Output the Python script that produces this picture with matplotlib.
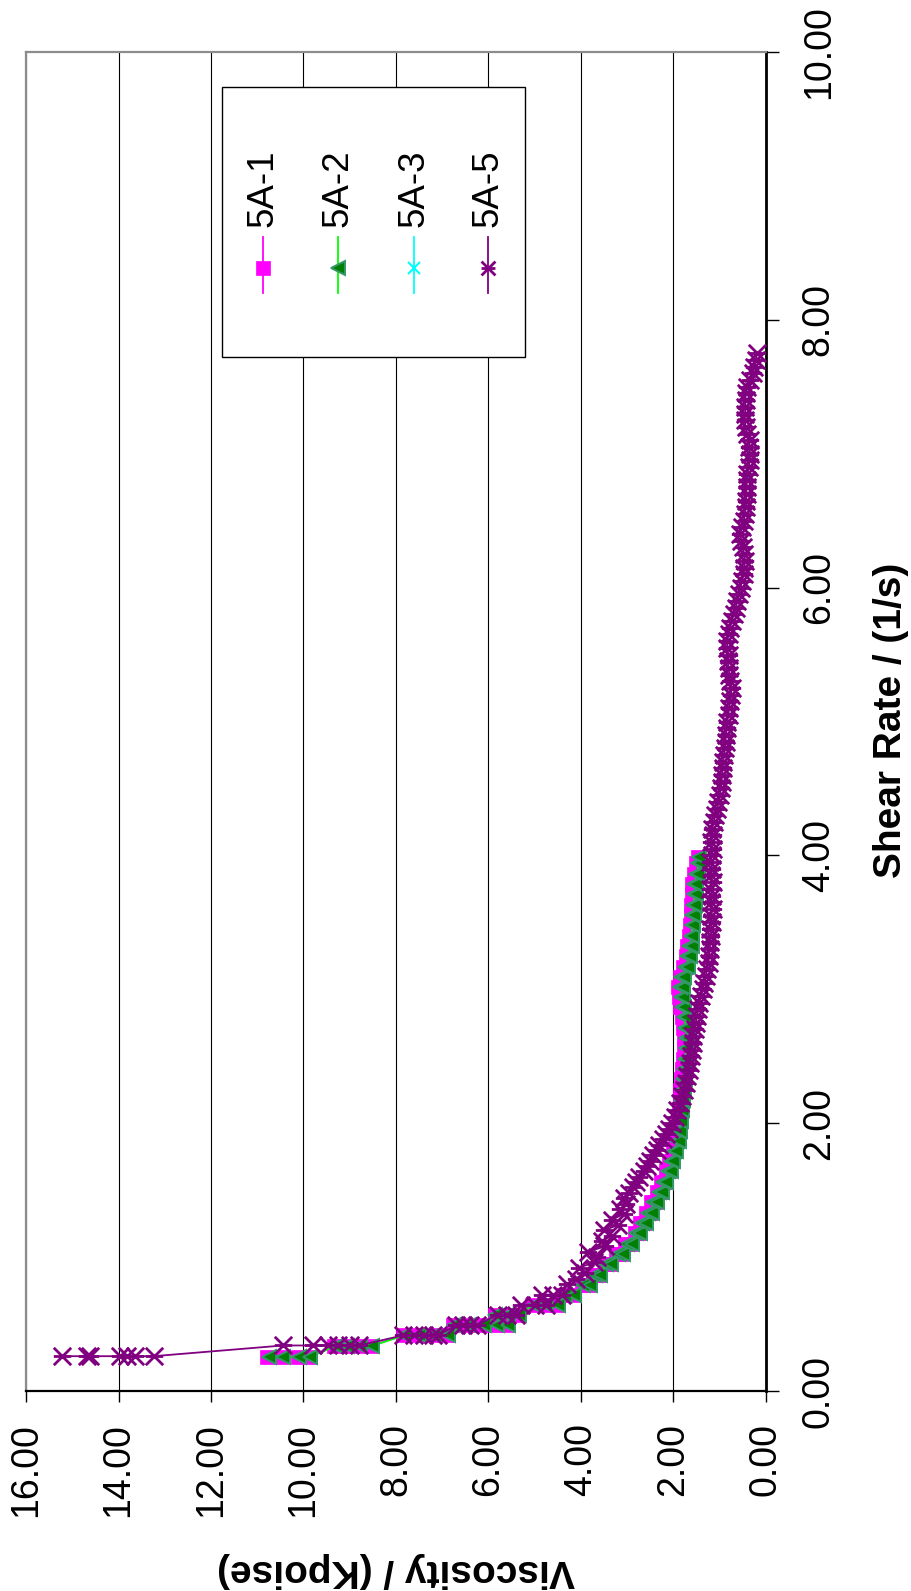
import matplotlib
matplotlib.use('Agg')
import matplotlib.pyplot as plt
from matplotlib.path import Path
from matplotlib.lines import Line2D
from matplotlib.patches import Rectangle
from matplotlib.ticker import FormatStrFormatter

plt.rcParams['font.family'] = ['Liberation Sans', 'DejaVu Sans']

# ---- data (shear rate 1/s, viscosity Kpoise) ----
series_names = ['5A-1', '5A-2', '5A-3', '5A-5']

shear_12 = [
    0.256, 0.256, 0.256, 0.256,
    0.336, 0.336, 0.336, 0.336,
    0.416, 0.416, 0.416, 0.416,
    0.493, 0.493, 0.493, 0.493, 0.493,
    0.568, 0.568, 0.568,
    0.645, 0.645, 0.645,
    0.72, 0.72, 0.795, 0.795, 0.87, 0.87, 0.95, 0.95, 1.025, 1.025,
    1.10, 1.10, 1.18, 1.18, 1.255, 1.255, 1.33, 1.33, 1.41, 1.41,
    1.485, 1.485, 1.56, 1.56, 1.64, 1.64, 1.715, 1.715, 1.79, 1.79,
    1.87, 1.87, 1.945, 1.945, 2.02, 2.02, 2.10, 2.10, 2.175, 2.175,
    2.25, 2.25, 2.33, 2.33, 2.405, 2.405, 2.48, 2.48, 2.56, 2.56,
    2.635, 2.635, 2.71, 2.71, 2.79, 2.79, 2.865, 2.865, 2.94, 2.94,
    3.02, 3.02, 3.095, 3.095, 3.17, 3.17, 3.25, 3.25, 3.325, 3.325,
    3.40, 3.40, 3.48, 3.48, 3.555, 3.555, 3.63, 3.63, 3.71, 3.71,
    3.785, 3.785, 3.86, 3.86, 3.94, 3.94, 3.99,
]

visc_5a1 = [
    10.78, 10.48, 10.12, 9.86,
    9.33, 9.06, 8.80, 8.55,
    7.84, 7.52, 7.20, 6.90,
    6.77, 6.44, 6.12, 5.84, 5.60,
    5.87, 5.62, 5.37,
    5.05, 4.78, 4.52,
    4.38, 4.18, 3.98, 3.83, 3.73, 3.61, 3.48, 3.38, 3.24, 3.13,
    3.04, 2.93, 2.84, 2.75, 2.72, 2.63, 2.59, 2.50, 2.48, 2.39,
    2.36, 2.28, 2.26, 2.19, 2.16, 2.09, 2.09, 2.03, 2.02, 1.97,
    1.97, 1.92, 1.94, 1.89, 1.91, 1.86, 1.89, 1.84, 1.87, 1.82,
    1.85, 1.80, 1.83, 1.78, 1.81, 1.76, 1.80, 1.75, 1.78, 1.73,
    1.77, 1.72, 1.80, 1.75, 1.82, 1.77, 1.85, 1.80, 1.88, 1.82,
    1.90, 1.83, 1.87, 1.80, 1.79, 1.72, 1.74, 1.68, 1.70, 1.64,
    1.67, 1.62, 1.65, 1.60, 1.63, 1.58, 1.62, 1.57, 1.60, 1.55,
    1.59, 1.54, 1.56, 1.51, 1.51, 1.46, 1.48,
]

visc_5a2 = [
    10.75, 10.45, 10.10, 9.85,
    9.30, 9.05, 8.78, 8.52,
    7.82, 7.50, 7.18, 6.88,
    6.75, 6.42, 6.10, 5.82, 5.58,
    5.85, 5.60, 5.35,
    5.02, 4.75, 4.50,
    4.35, 4.15, 3.95, 3.80, 3.70, 3.58, 3.45, 3.35, 3.20, 3.10,
    3.00, 2.90, 2.80, 2.72, 2.68, 2.60, 2.55, 2.47, 2.44, 2.36,
    2.32, 2.25, 2.22, 2.16, 2.12, 2.06, 2.05, 2.00, 1.98, 1.94,
    1.93, 1.89, 1.90, 1.86, 1.87, 1.83, 1.85, 1.81, 1.83, 1.79,
    1.81, 1.77, 1.79, 1.75, 1.77, 1.73, 1.76, 1.72, 1.74, 1.70,
    1.73, 1.69, 1.76, 1.72, 1.78, 1.74, 1.81, 1.77, 1.84, 1.79,
    1.86, 1.80, 1.83, 1.77, 1.75, 1.69, 1.70, 1.65, 1.66, 1.61,
    1.63, 1.59, 1.61, 1.57, 1.59, 1.55, 1.58, 1.54, 1.56, 1.52,
    1.55, 1.51, 1.52, 1.48, 1.47, 1.43, 1.45,
]

shear_5a3 = []
visc_5a3 = []

shear_5a5 = [
    0.26, 0.26, 0.26, 0.26, 0.26, 0.26, 0.26,
    0.34, 0.34, 0.34, 0.34, 0.34, 0.34,
    0.415, 0.415, 0.415, 0.415, 0.415,
    0.49, 0.49, 0.49, 0.49,
    0.57, 0.57, 0.57,
    0.645, 0.645, 0.645,
    0.72, 0.72, 0.72,
    0.80, 0.84, 0.88, 0.92, 0.96, 1.00, 1.04, 1.08, 1.12, 1.16,
    1.20, 1.24, 1.28, 1.32, 1.36, 1.40, 1.44, 1.48, 1.52, 1.56,
    1.60, 1.64, 1.68, 1.72, 1.76, 1.80, 1.84, 1.88, 1.92, 1.96,
    2.00, 2.05, 2.10, 2.15, 2.20, 2.25, 2.30, 2.35, 2.40, 2.45,
    2.50, 2.55, 2.60, 2.65, 2.70, 2.75, 2.80, 2.85, 2.90, 2.95,
    3.00, 3.05, 3.10, 3.15, 3.20, 3.25, 3.30, 3.35, 3.40, 3.45,
    3.50, 3.55, 3.60, 3.65, 3.70, 3.75, 3.80, 3.85, 3.90, 3.95,
    4.00, 4.05, 4.10, 4.15, 4.20, 4.25, 4.30, 4.35, 4.40, 4.45,
    4.50, 4.55, 4.60, 4.65, 4.70, 4.75, 4.80, 4.85, 4.90, 4.95,
    5.00, 5.05, 5.10, 5.15, 5.20, 5.25, 5.30, 5.35, 5.40, 5.45,
    5.50, 5.55, 5.60, 5.65, 5.70, 5.75, 5.80, 5.85, 5.90, 5.95,
    6.00, 6.05, 6.10, 6.15, 6.20, 6.25, 6.30, 6.35, 6.40, 6.45,
    6.50, 6.55, 6.60, 6.65, 6.70, 6.75, 6.80, 6.85, 6.90, 6.95,
    7.00, 7.05, 7.10, 7.15, 7.20, 7.25, 7.30, 7.35, 7.40, 7.45,
    7.50, 7.55, 7.60, 7.65, 7.70, 7.75,
]

visc_5a5 = [
    15.22, 14.69, 14.62, 13.97, 13.82, 13.64, 13.24,
    10.44, 9.79, 9.47, 9.25, 9.00, 8.80,
    7.85, 7.60, 7.40, 7.20, 7.10,
    6.70, 6.55, 6.40, 6.25,
    5.80, 5.60, 5.40,
    5.30, 5.00, 4.75,
    4.85, 4.60, 4.40,
    4.30, 4.10, 3.92, 4.05, 3.72, 3.66, 3.85, 3.48, 3.55, 3.33,
    3.50, 3.20, 3.34, 3.08, 3.16, 3.02, 3.08, 2.96, 2.88, 2.80,
    2.74, 2.64, 2.58, 2.50, 2.44, 2.36, 2.31, 2.23, 2.17, 2.10,
    2.04, 1.97, 1.92, 1.86, 1.81, 1.77, 1.72, 1.71, 1.66, 1.65,
    1.62, 1.61, 1.58, 1.58, 1.54, 1.51, 1.49, 1.46, 1.44, 1.40,
    1.37, 1.33, 1.29, 1.28, 1.24, 1.23, 1.21, 1.21, 1.18, 1.20,
    1.16, 1.19, 1.15, 1.19, 1.16, 1.20, 1.15, 1.19, 1.16, 1.20,
    1.17, 1.15, 1.19, 1.14, 1.17, 1.12, 1.10, 1.05, 1.03, 0.99,
    0.98, 0.96, 0.95, 0.93, 0.93, 0.90, 0.89, 0.87, 0.87, 0.84,
    0.84, 0.81, 0.80, 0.77, 0.76, 0.74, 0.77, 0.79, 0.81, 0.82,
    0.81, 0.84, 0.84, 0.81, 0.78, 0.74, 0.70, 0.65, 0.62, 0.58,
    0.55, 0.52, 0.48, 0.47, 0.45, 0.47, 0.50, 0.53, 0.56, 0.52,
    0.47, 0.46, 0.43, 0.43, 0.42, 0.42, 0.41, 0.40, 0.37, 0.35,
    0.34, 0.36, 0.35, 0.40, 0.44, 0.46, 0.45, 0.45, 0.44, 0.44,
    0.40, 0.34, 0.28, 0.25, 0.21, 0.20,
]

visc_ticks = [0, 2, 4, 6, 8, 10, 12, 14, 16]
shear_ticks = [0, 2, 4, 6, 8, 10]

# asterisk marker: X with a bar (chart is turned on its side)
star = Path([(-1, -1), (1, 1), (-1, 1), (1, -1), (-1, 0), (1, 0)],
            [Path.MOVETO, Path.LINETO, Path.MOVETO, Path.LINETO, Path.MOVETO, Path.LINETO])

styles = {
    '5A-1': dict(color='#FF00FF', marker='s', markersize=9.5, markerfacecolor='#FF00FF',
                 markeredgecolor='#FF00FF', markeredgewidth=0.5),
    '5A-2': dict(color='#00FF00', marker='<', markersize=10, markerfacecolor='#007F00',
                 markeredgecolor='#339966', markeredgewidth=1.4),
    '5A-3': dict(color='#00FFFF', marker='x', markersize=9, markeredgecolor='#00FFFF',
                 markeredgewidth=1.5),
    '5A-5': dict(color='#800080', marker=star, markersize=12.5, markerfacecolor='none',
                 markeredgecolor='#800080', markeredgewidth=2.0),
}

fig = plt.figure(figsize=(9.12, 15.91), dpi=100)
ax = fig.add_axes([26 / 912, 200 / 1591, 740 / 912, 1339 / 1591])

ax.plot(visc_5a1, shear_12, lw=1.3, zorder=3, **styles['5A-1'])
ax.plot(visc_5a2, shear_12, lw=1.3, zorder=3, **styles['5A-2'])
ax.plot(visc_5a3, shear_5a3, lw=1.3, zorder=3, **styles['5A-3'])
ax.plot(visc_5a5, shear_5a5, lw=1.3, zorder=3, **styles['5A-5'])

ax.set_xlim(16, 0)
ax.set_ylim(0, 10)
ax.set_xticks(visc_ticks)
ax.set_yticks(shear_ticks)
ax.xaxis.set_major_formatter(FormatStrFormatter('%.2f'))
ax.yaxis.set_major_formatter(FormatStrFormatter('%.2f'))
ax.yaxis.tick_right()
ax.tick_params(axis='x', direction='out', length=8, width=1, pad=15,
               labelsize=27, labelrotation=90, colors='black')
ax.tick_params(axis='y', direction='out', length=9, width=1, pad=16,
               labelsize=27, labelrotation=90, colors='black')
for lab in ax.yaxis.get_ticklabels():
    lab.set_va('center')
    lab.set_ha('left')

ax.grid(axis='x', color='black', lw=0.8)
ax.set_axisbelow(True)
for side in ['left', 'top']:
    ax.spines[side].set_color('#8C8C8C')
    ax.spines[side].set_linewidth(1.6)
ax.spines['right'].set_color('black')
ax.spines['right'].set_linewidth(2.0)
ax.spines['bottom'].set_color('black')
ax.spines['bottom'].set_linewidth(1.6)

# legend, drawn turned on its side like the rest of the chart
ax.add_patch(Rectangle((0.265, 0.772), 0.409, 0.202, transform=ax.transAxes,
                       facecolor='white', edgecolor='black', lw=1.0, zorder=5))
legend_x = [0.3207, 0.4212, 0.5243, 0.6247]
for name, lx in zip(series_names, legend_x):
    st = dict(styles[name])
    ax.add_line(Line2D([lx, lx], [0.8198, 0.8616], transform=ax.transAxes,
                       color=st['color'], lw=1.3, zorder=6))
    mk = {k: v for k, v in st.items() if k != 'color'}
    mk['markersize'] = min(mk['markersize'], 10)
    ax.add_line(Line2D([lx], [0.8389], transform=ax.transAxes, linestyle='none',
                       zorder=7, **mk))
    ax.text(lx, 0.8695, name, transform=ax.transAxes, rotation=90,
            ha='center', va='bottom', fontsize=26.5, zorder=7)

fig.text(891 / 912, 1 - 720 / 1591, 'Shear Rate / (1/s)', rotation=90,
         ha='center', va='center', fontsize=28, fontweight='bold')
fig.text(396 / 912, 1 - 1570 / 1591, 'Viscosity / (Kpoise)', rotation=180,
         ha='center', va='center', fontsize=28, fontweight='bold')

fig.savefig('out.png', dpi=100)
